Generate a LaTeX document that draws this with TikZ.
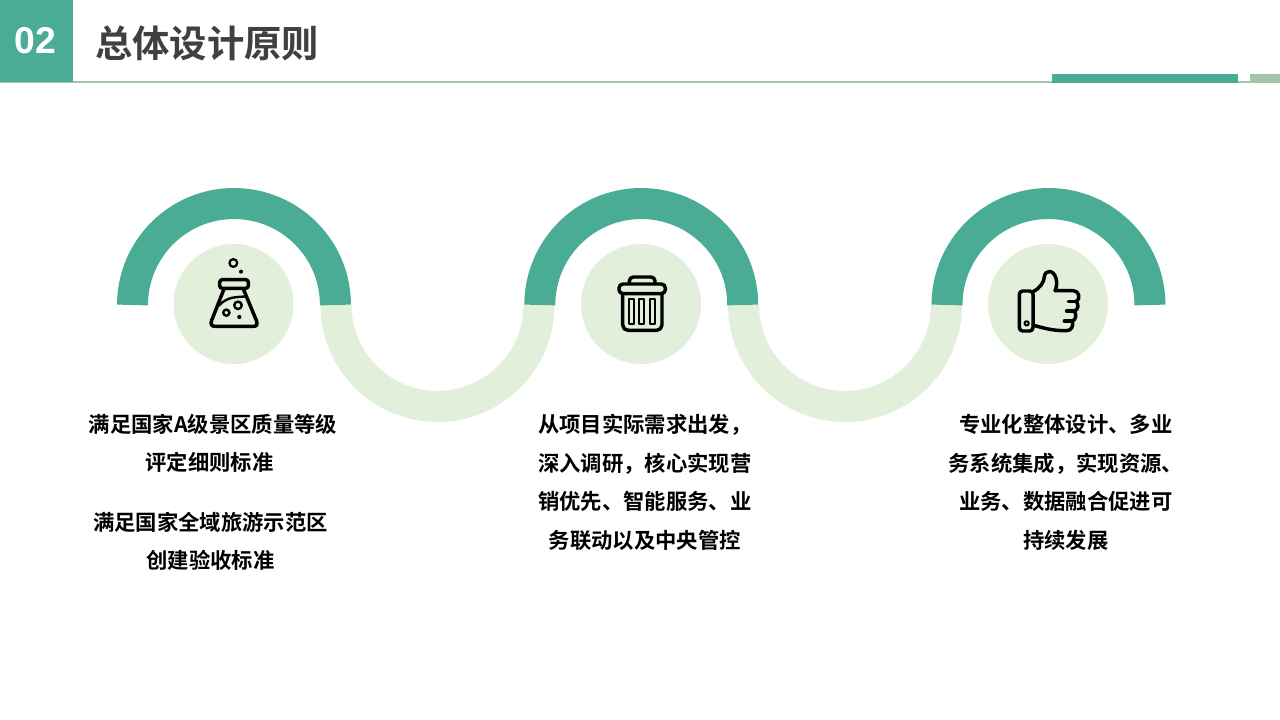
\documentclass[tikz,border=0pt]{standalone}
\usepackage{fontspec}
\setmainfont{Liberation Sans}
\newfontfamily\cjk{Noto Sans CJK SC Bold}
\definecolor{teal1}{HTML}{4BAC96}
\definecolor{pale}{HTML}{E2EFDA}
\definecolor{sage}{HTML}{A5C3A6}
\definecolor{titlec}{HTML}{404040}
\tikzset{
  tealarc/.style={draw=teal1,line width=23.25pt,line cap=butt},
  palearc/.style={draw=pale,line width=23.25pt,line cap=butt},
  body/.style={align=center,inner sep=0pt,font=\cjk\fontsize{16}{28.9}\selectfont,text=black},
  icon/.style={draw=black,line width=2.6pt,line join=round,line cap=round},
  thin icon/.style={draw=black,line width=1.5pt,line join=round},
}
\begin{document}
\begin{tikzpicture}[x=0.75pt,y=-0.75pt]
\useasboundingbox (0,0) rectangle (1280,720);
\fill[white] (0,0) rectangle (1280,720);
% header
\fill[sage] (0,81) rectangle (1280,83);
\fill[teal1] (0,0) rectangle (73,82);
\fill[white] (1238,72) rectangle (1250,81);
\fill[teal1] (1052,74) rectangle (1238,83);
\fill[sage] (1250,74) rectangle (1280,83);
\node[text=white,font=\bfseries\fontsize{28}{32}\selectfont,inner sep=0pt] (num) at (35.5,41) {02};
\node[text=titlec,font=\cjk\fontsize{28}{32}\selectfont,anchor=west,inner sep=0pt] (title) at (95,43) {总体设计原则};
% wave
\draw[palearc] (336,305) arc[start angle=180,end angle=360,radius=76.1pt];
\draw[palearc] (743.5,305) arc[start angle=180,end angle=360,radius=76.1pt];
\draw[tealarc] (132.5,305) arc[start angle=180,end angle=0,radius=76.1pt];
\draw[tealarc] (539.8,305) arc[start angle=180,end angle=0,radius=76.1pt];
\draw[tealarc] (947,305) arc[start angle=180,end angle=0,radius=76.1pt];
% discs
\fill[pale] (233.5,304) circle[radius=45pt];
\fill[pale] (641,304) circle[radius=45pt];
\fill[pale] (1048,304) circle[radius=45pt];
% flask
\begin{scope}[shift={(160,235)},x=0.25pt,y=-0.25pt]
  \draw[thin icon,line width=1.7pt] (220,84) circle[radius=2.9pt];
  \fill (243,110) circle[radius=1.5pt];
  \draw[icon] (192,162) -- (155,256) .. controls (150,270) and (156,274) .. (166,274) -- (280,274) .. controls (290,274) and (294,270) .. (289,256) -- (250,162);
  \draw[icon,rounded corners=2pt] (179,134) -- (265,134) -- (265,160) -- (179,160) -- cycle;
  \draw[thin icon,line width=1.8pt] (176,212) .. controls (205,182) and (230,188) .. (256,184);
  \draw[thin icon,line width=1.8pt] (234,211) circle[radius=2.8pt];
  \draw[thin icon,line width=1.8pt] (199,233) circle[radius=2.3pt];
  \fill (238,246) circle[radius=1.6pt];
\end{scope}
% trash
\begin{scope}[shift={(570,235)},x=0.25pt,y=-0.25pt]
  \draw[icon,rounded corners=3pt] (178,146) -- (178,126) -- (255,126) -- (255,146);
  \draw[icon,rounded corners=3pt] (147,147) -- (286,147) -- (286,176) -- (147,176) -- cycle;
  \draw[icon,rounded corners=4pt] (158,176) -- (158,286) -- (276,286) -- (276,176);
  \draw[thin icon] (177,193) rectangle (192,268);
  \draw[thin icon] (208,193) rectangle (223,268);
  \draw[thin icon] (240,193) rectangle (255,268);
\end{scope}
% thumb
\begin{scope}[shift={(975,235)},x=0.25pt,y=-0.25pt]
  \draw[icon,rounded corners=2.5pt] (133,168) -- (174,168) -- (174,288) -- (133,288) -- cycle;
  \draw[thin icon] (155,265) circle[radius=1.6pt];
  \draw[icon] (174,170) .. controls (195,160) and (208,140) .. (208,125) .. controls (210,105) and (235,102) .. (243,130) .. controls (247,145) and (245,155) .. (240,167) -- (295,167) .. controls (312,167) and (318,192) .. (304,199) .. controls (312,210) and (310,224) .. (298,228) .. controls (305,240) and (303,254) .. (292,258) .. controls (296,272) and (290,287) .. (275,287) .. controls (240,288) and (205,280) .. (174,270);
  \draw[icon] (280,199) -- (304,199);
  \draw[icon] (275,228) -- (298,228);
  \draw[icon] (268,258) -- (292,258);
\end{scope}
% text
\node[body] (t1a) at (213,424) {满足国家A级景区质量等级};
\node[body] (t1b) at (209.5,462) {评定细则标准};
\node[body] (t2) at (210.5,541.5) {满足国家全域旅游示范区\\创建验收标准};
\node[body] (t3) at (644.8,482.5) {从项目实际需求出发，\\深入调研，核心实现营\\销优先、智能服务、业\\务联动以及中央管控};
\node[body] (t4) at (1065.8,482.5) {专业化整体设计、多业\\务系统集成，实现资源、\\业务、数据融合促进可\\持续发展};
\end{tikzpicture}
\end{document}
